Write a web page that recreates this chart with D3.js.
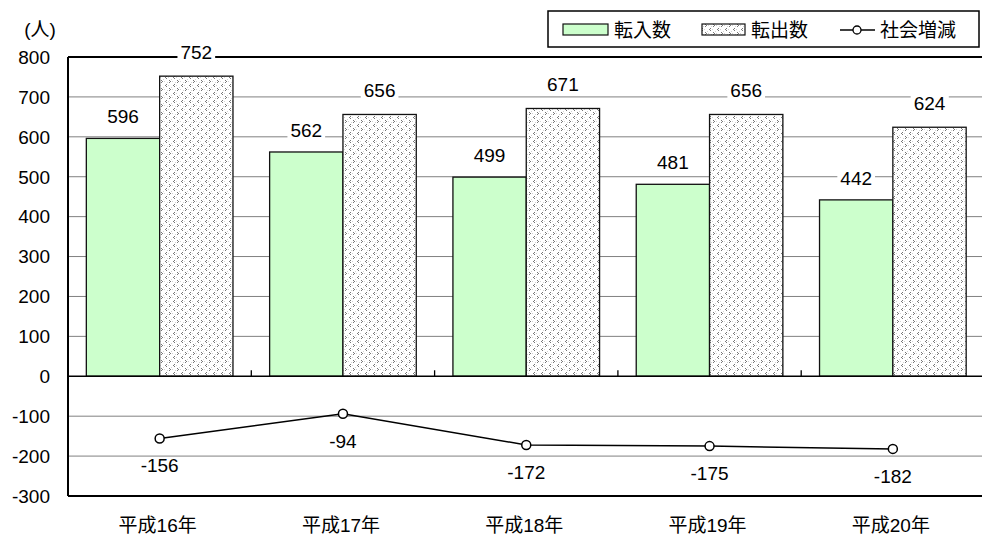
<!DOCTYPE html>
<html>
<head>
<meta charset="utf-8">
<script src="https://cdn.jsdelivr.net/npm/d3@7"></script>
<style>
  body { margin: 0; background: #fff; }
  text { font-family: "Liberation Sans", Arial, "Noto Sans CJK JP", sans-serif; fill: #000; }
</style>
</head>
<body>
<div id="chart"></div>
<script>
// data
var years = ["平成16年", "平成17年", "平成18年", "平成19年", "平成20年"];
var tennyu = [596, 562, 499, 481, 442];   // 転入数
var tenshutsu = [752, 656, 671, 656, 624]; // 転出数
var shakai = [-156, -94, -172, -175, -182]; // 社会増減
var yTicks = [800, 700, 600, 500, 400, 300, 200, 100, 0, -100, -200, -300];
var seriesNames = ["転入数", "転出数", "社会増減"];

var w = 982, h = 540;
var mLeft = 68, mTop = 57, mBottom = 496;
var bandW = 183.3;
var fs = "19px";

var svg = d3.select("#chart").append("svg")
  .attr("width", w)
  .attr("height", h);

// hatch pattern for 転出数
var defs = svg.append("defs");
var pat = defs.append("pattern")
  .attr("id", "dots")
  .attr("patternUnits", "userSpaceOnUse")
  .attr("width", 8).attr("height", 8);
pat.append("rect").attr("width", 8).attr("height", 8).attr("fill", "#fff");
// little "<" / ">" marks
[[1,0],[2,1],[1,2],[6,4],[5,5],[6,6]].forEach(function(p){
  pat.append("rect").attr("x", p[0]).attr("y", p[1]).attr("width", 1).attr("height", 1).attr("fill", "#777");
});
[[4,1],[0,5],[3,7],[7,2]].forEach(function(p){
  pat.append("rect").attr("x", p[0]).attr("y", p[1]).attr("width", 1).attr("height", 1).attr("fill", "#d4d4d4");
});

var x = d3.scaleBand().domain(years).range([mLeft, mLeft + bandW * years.length]);
var x1 = d3.scaleBand().domain([0, 1]).range([0, x.bandwidth()]).paddingOuter(0.25);
var y = d3.scaleLinear().domain([-300, 800]).range([mBottom, mTop]);

// grid lines
svg.append("g").selectAll("line")
  .data(yTicks.filter(function(d){ return d != 0 && d != 800 && d != -300; }))
  .join("line")
  .attr("x1", mLeft).attr("x2", w)
  .attr("y1", function(d){ return y(d); }).attr("y2", function(d){ return y(d); })
  .attr("stroke", "#808080").attr("stroke-width", 1);

// tick labels
svg.append("g").selectAll("text")
  .data(yTicks)
  .join("text")
  .attr("x", 50)
  .attr("y", function(d){ return y(d); })
  .attr("dy", "0.36em")
  .attr("text-anchor", "end")
  .attr("font-size", fs)
  .text(function(d){ return d; });

svg.append("text")
  .attr("x", 40).attr("y", 29)
  .attr("dy", "0.36em")
  .attr("text-anchor", "middle")
  .attr("font-size", fs)
  .text("(人)");

// bars
var g = svg.append("g");
g.selectAll("rect.in")
  .data(tennyu)
  .join("rect")
  .attr("class", "in")
  .attr("x", function(d, i){ return x(years[i]) + x1(0); })
  .attr("y", function(d){ return y(d); })
  .attr("width", x1.bandwidth())
  .attr("height", function(d){ return y(0) - y(d); })
  .attr("fill", "#ccffcc")
  .attr("stroke", "#111").attr("stroke-width", 1.3);
g.selectAll("rect.out")
  .data(tenshutsu)
  .join("rect")
  .attr("class", "out")
  .attr("x", function(d, i){ return x(years[i]) + x1(1); })
  .attr("y", function(d){ return y(d); })
  .attr("width", x1.bandwidth())
  .attr("height", function(d){ return y(0) - y(d); })
  .attr("fill", "url(#dots)")
  .attr("stroke", "#111").attr("stroke-width", 1.3);

// axes frame
svg.append("line").attr("x1", mLeft).attr("x2", w).attr("y1", y(0)).attr("y2", y(0))
  .attr("stroke", "#000").attr("stroke-width", 1.5);
svg.append("line").attr("x1", mLeft).attr("x2", w).attr("y1", y(800)).attr("y2", y(800))
  .attr("stroke", "#000").attr("stroke-width", 2);
svg.append("line").attr("x1", mLeft).attr("x2", w).attr("y1", y(-300)).attr("y2", y(-300))
  .attr("stroke", "#000").attr("stroke-width", 2);
svg.append("line").attr("x1", mLeft).attr("x2", mLeft).attr("y1", y(800)).attr("y2", y(-300))
  .attr("stroke", "#000").attr("stroke-width", 2);
svg.append("g").selectAll("line")
  .data(years.slice(1))
  .join("line")
  .attr("x1", function(d){ return x(d); }).attr("x2", function(d){ return x(d); })
  .attr("y1", y(0) - 6).attr("y2", y(0))
  .attr("stroke", "#000").attr("stroke-width", 1.3);

// line series
var cx = function(i){ return x(years[i]) + x.bandwidth() / 2; };
svg.append("path")
  .datum(shakai)
  .attr("d", d3.line().x(function(d, i){ return cx(i); }).y(function(d){ return y(d); }))
  .attr("fill", "none").attr("stroke", "#000").attr("stroke-width", 1.5);
svg.append("g").selectAll("circle")
  .data(shakai)
  .join("circle")
  .attr("cx", function(d, i){ return cx(i); })
  .attr("cy", function(d){ return y(d); })
  .attr("r", 4.5)
  .attr("fill", "#fff").attr("stroke", "#000").attr("stroke-width", 1.5);

// value labels with white background
function addLabel(px, py, txt) {
  var lg = svg.append("g");
  var bg = lg.append("rect").attr("fill", "#fff");
  var t = lg.append("text")
    .attr("x", px).attr("y", py)
    .attr("dy", "0.36em")
    .attr("text-anchor", "middle")
    .attr("font-size", fs)
    .text(txt);
  var b = t.node().getBBox();
  bg.attr("x", b.x - 3).attr("y", b.y + 2).attr("width", b.width + 6).attr("height", b.height - 4);
}
tennyu.forEach(function(d, i){
  addLabel(x(years[i]) + x1(0) + x1.bandwidth() / 2, y(d) - 22, d);
});
tenshutsu.forEach(function(d, i){
  addLabel(x(years[i]) + x1(1) + x1.bandwidth() / 2, y(d) - 24, d);
});
shakai.forEach(function(d, i){
  addLabel(cx(i), y(d) + 27, d);
});

// category labels
svg.append("g").selectAll("text")
  .data(years)
  .join("text")
  .attr("x", function(d){ return x(d) + x.bandwidth() / 2 - 2; })
  .attr("y", 525)
  .attr("dy", "0.36em")
  .attr("text-anchor", "middle")
  .attr("font-size", fs)
  .text(function(d){ return d; });

// legend
var lg = svg.append("g");
lg.append("rect").attr("x", 548).attr("y", 11).attr("width", 431).attr("height", 36)
  .attr("fill", "#fff").attr("stroke", "#000").attr("stroke-width", 1.5);
lg.append("rect").attr("x", 563).attr("y", 24).attr("width", 45).attr("height", 11)
  .attr("fill", "#ccffcc").attr("stroke", "#111").attr("stroke-width", 1.2);
lg.append("text").attr("x", 614).attr("y", 30).attr("dy", "0.36em").attr("font-size", fs).text(seriesNames[0]);
lg.append("rect").attr("x", 702).attr("y", 24).attr("width", 43).attr("height", 11)
  .attr("fill", "url(#dots)").attr("stroke", "#111").attr("stroke-width", 1.2);
lg.append("text").attr("x", 751).attr("y", 30).attr("dy", "0.36em").attr("font-size", fs).text(seriesNames[1]);
lg.append("line").attr("x1", 840).attr("x2", 875).attr("y1", 30).attr("y2", 30)
  .attr("stroke", "#000").attr("stroke-width", 1.5);
lg.append("circle").attr("cx", 857).attr("cy", 30).attr("r", 4)
  .attr("fill", "#fff").attr("stroke", "#000").attr("stroke-width", 1.3);
lg.append("text").attr("x", 880).attr("y", 30).attr("dy", "0.36em").attr("font-size", fs).text(seriesNames[2]);
</script>
</body>
</html>
